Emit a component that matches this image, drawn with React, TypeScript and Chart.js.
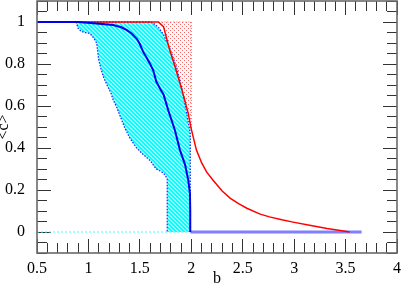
import React, { useEffect, useRef } from 'react';
import { Chart, registerables } from 'chart.js';
Chart.register(...registerables);

const xTickValues = [0.5, 1, 1.5, 2, 2.5, 3, 3.5, 4];
const yTickValues = [0, 0.2, 0.4, 0.6, 0.8, 1];
const xMinorStep = 0.1;
const yMinorStep = 0.05;
const xRange = [0.5, 4];
const yRange = [-0.1, 1.1];
const xLabel = 'b';
const yLabel = '<c>';

// red curve
const redX = [0.5, 1.0, 1.5, 1.68, 1.73, 1.79, 1.84, 1.89, 1.93, 1.97, 2.0, 2.05, 2.1, 2.15, 2.21, 2.3, 2.38, 2.46, 2.54, 2.67, 2.76, 2.88, 2.99, 3.15, 3.32, 3.48, 3.54];
const redY = [1, 1, 1, 1.0, 0.978, 0.867, 0.79, 0.708, 0.64, 0.565, 0.49, 0.39, 0.33, 0.285, 0.248, 0.195, 0.16, 0.135, 0.113, 0.085, 0.072, 0.058, 0.047, 0.032, 0.017, 0.005, 0];

// upper bound of the cyan band
const upperX = [0.5, 1.6, 1.63, 1.68, 1.73, 1.79, 1.86, 1.91, 1.95, 1.99, 1.99];
const upperY = [1, 1, 0.995, 0.975, 0.94, 0.875, 0.78, 0.68, 0.58, 0.47, 0];

// lower bound of the cyan band
const lowerX = [0.5, 0.88, 0.9, 0.93, 0.97, 1.015, 1.05, 1.08, 1.09, 1.1, 1.12, 1.145, 1.19, 1.22, 1.24, 1.27, 1.31, 1.35, 1.4, 1.44, 1.47, 1.53, 1.6, 1.63, 1.66, 1.7, 1.73, 1.766, 1.766];
const lowerY = [1, 1, 0.97, 0.955, 0.95, 0.945, 0.925, 0.9, 0.86, 0.82, 0.78, 0.74, 0.69, 0.66, 0.63, 0.6, 0.55, 0.5, 0.45, 0.42, 0.4, 0.37, 0.34, 0.32, 0.3, 0.29, 0.28, 0.255, 0];

// mean curve
const meanX = [0.5, 0.9, 1.05, 1.24, 1.32, 1.37, 1.42, 1.47, 1.5, 1.53, 1.566, 1.6, 1.63, 1.66, 1.7, 1.73, 1.776, 1.81, 1.84, 1.89, 1.94, 1.97, 1.987, 1.99, 1.99];
const meanY = [1, 1, 0.994, 0.986, 0.975, 0.962, 0.945, 0.92, 0.895, 0.86, 0.83, 0.8, 0.77, 0.716, 0.68, 0.655, 0.58, 0.53, 0.486, 0.39, 0.32, 0.248, 0.184, 0.1, 0];

const baseX = [1.99, 3.656];
const baseY = [0, 0];
const zeroX = [0.5, 1.99];
const zeroY = [0, 0];
const pinkEdgeX = [1.68, 2.0, 2.0];
const pinkEdgeY = [1, 1, 0.49];

const zip = (xs: number[], ys: number[]) => xs.map((x, i) => ({ x, y: ys[i] }));

function minorValues(lo: number, hi: number, step: number, majors: number[]) {
  const out: number[] = [];
  const n = Math.round((hi - lo) / step);
  for (let i = 0; i <= n; i++) {
    const v = Math.round((lo + i * step) * 1000) / 1000;
    if (!majors.some((m) => Math.abs(m - v) < 1e-6)) out.push(v);
  }
  return out;
}

function makePattern(size: number, fn: (x: number, y: number) => number[] | null) {
  const c = document.createElement('canvas');
  c.width = size;
  c.height = size;
  const p = c.getContext('2d')!;
  const img = p.createImageData(size, size);
  for (let y = 0; y < size; y++) {
    for (let x = 0; x < size; x++) {
      const col = fn(x, y);
      if (col) {
        const k = (y * size + x) * 4;
        img.data[k] = col[0];
        img.data[k + 1] = col[1];
        img.data[k + 2] = col[2];
        img.data[k + 3] = col[3];
      }
    }
  }
  p.putImageData(img, 0, 0);
  return p.createPattern(c, 'repeat')!;
}

const framePlugin = {
  id: 'framePlugin',
  afterDraw(chart: any) {
    const ctx: CanvasRenderingContext2D = chart.ctx;
    const a = chart.chartArea;
    ctx.save();
    ctx.setLineDash([]);
    ctx.strokeStyle = '#6a6a6a';
    ctx.lineWidth = 1.6;
    ctx.strokeRect(a.left, a.top, a.right - a.left, a.bottom - a.top);
    ctx.restore();
  },
};

function tickAxis(axis: 'x' | 'y', position: string, values: number[], len: number) {
  const range = axis === 'x' ? xRange : yRange;
  return {
    type: 'linear',
    axis,
    position,
    min: range[0],
    max: range[1],
    weight: -1,
    display: true,
    grid: { display: true, drawOnChartArea: false, drawTicks: true, tickLength: -len, color: '#333333', lineWidth: 1 },
    border: { display: false },
    ticks: { display: false },
    title: { display: false },
    afterBuildTicks: (s: any) => { s.ticks = values.map((v) => ({ value: v })); },
    afterFit: (s: any) => {
      if (axis === 'x') s.height = 0; else s.width = 0;
      s.paddingLeft = 0; s.paddingRight = 0; s.paddingTop = 0; s.paddingBottom = 0;
    },
  } as any;
}

export default function App() {
  const ref = useRef<HTMLCanvasElement>(null);
  useEffect(() => {
    document.body.style.margin = '0';
    const canvas = ref.current!;
    const hatch = makePattern(4, (x, y) => (((x - y) % 4 + 4) % 4 < 2 ? [0, 255, 255, 255] : [150, 255, 255, 255]));
    const dots = makePattern(4, (x, y) => ((x === 0 && y === 0) || (x === 2 && y === 2) ? [255, 60, 60, 200] : null));

    const redPts = zip(redX, redY);
    const pinkPoly = [...redPts.filter((p) => p.x >= pinkEdgeX[0] && p.x <= pinkEdgeX[1]), { x: pinkEdgeX[1], y: pinkEdgeY[1] }];
    const lowerPts = zip(lowerX, lowerY).filter((p) => p.x >= lowerX[1]);
    const upperPts = zip(upperX, upperY).filter((p) => p.x >= lowerX[1]).reverse();
    const cyanPoly = [...lowerPts, { x: upperX[upperX.length - 1], y: 0 }, ...upperPts, { x: lowerX[1], y: 1 }];

    const xMinor = minorValues(xRange[0], xRange[1], xMinorStep, xTickValues);
    const yMinor = minorValues(yRange[0], yRange[1], yMinorStep, yTickValues);

    const base = { pointRadius: 0, tension: 0, fill: false } as any;
    const fmt = (v: any) => String(Math.round(Number(v) * 100) / 100);
    const chart = new Chart(canvas, {
      type: 'line',
      data: {
        datasets: [
          { ...base, label: 'mean', data: zip(meanX, meanY), borderColor: '#0000e6', borderWidth: 2 },
          { ...base, label: 'red', data: redPts, borderColor: '#ff0000', borderWidth: 1.5 },
          { ...base, label: 'upper', data: zip(upperX, upperY), borderColor: '#2a2aff', borderWidth: 1.3, borderDash: [1.5, 1.5] },
          { ...base, label: 'lower', data: zip(lowerX, lowerY), borderColor: '#2a2aff', borderWidth: 1.3, borderDash: [1.5, 1.5] },
          { ...base, label: 'pinkEdge', data: zip(pinkEdgeX, pinkEdgeY), borderColor: '#ff5050', borderWidth: 1, borderDash: [1, 2] },
          { ...base, label: 'zero', data: zip(zeroX, zeroY), borderColor: '#40ffff', borderWidth: 1, borderDash: [2, 2] },
          { ...base, label: 'base', data: zip(baseX, baseY), borderColor: '#8080ff', borderWidth: 3 },
          { ...base, label: 'pinkFill', data: pinkPoly, borderWidth: 0, borderColor: 'rgba(0,0,0,0)', backgroundColor: dots, fill: 'shape' },
          { ...base, label: 'cyanFill', data: cyanPoly, borderWidth: 0, borderColor: 'rgba(0,0,0,0)', backgroundColor: hatch, fill: 'shape' },
        ],
      },
      options: {
        animation: false,
        responsive: false,
        devicePixelRatio: 1,
        layout: { padding: { top: 1, right: 5, left: 0, bottom: 0 } },
        plugins: { legend: { display: false }, tooltip: { enabled: false } },
        scales: {
          x: {
            type: 'linear',
            min: xRange[0],
            max: xRange[1],
            weight: 0,
            grid: { display: false },
            border: { display: false },
            afterFit: (s: any) => { s.height = 31; s.paddingLeft = 0; s.paddingRight = 0; },
            afterBuildTicks: (s: any) => { s.ticks = xTickValues.map((v) => ({ value: v })); },
            ticks: { padding: -2, color: '#000', font: { family: 'Liberation Serif', size: 16 }, maxRotation: 0, callback: fmt },
            title: { display: true, text: xLabel, color: '#000', font: { family: 'Liberation Serif', size: 16 }, padding: { top: 0, bottom: -4.5 } },
          },
          y: {
            type: 'linear',
            min: yRange[0],
            max: yRange[1],
            weight: 0,
            grid: { display: false },
            border: { display: false },
            afterFit: (s: any) => { s.width = 37; s.paddingTop = 0; s.paddingBottom = 0; },
            afterBuildTicks: (s: any) => { s.ticks = yTickValues.map((v) => ({ value: v })); },
            ticks: { padding: 4, color: '#000', font: { family: 'Liberation Serif', size: 16 }, callback: fmt },
            title: { display: true, text: yLabel, color: '#000', font: { family: 'Liberation Serif', size: 16 }, padding: { top: -5.5, bottom: 0 } },
          },
          xBotMajor: tickAxis('x', 'bottom', xTickValues, 14),
          xBotMinor: tickAxis('x', 'bottom', xMinor, 10),
          xTopMajor: tickAxis('x', 'top', xTickValues, 14),
          xTopMinor: tickAxis('x', 'top', xMinor, 10),
          yLeftMajor: tickAxis('y', 'left', yTickValues, 14),
          yLeftMinor: tickAxis('y', 'left', yMinor, 10),
          yRightMajor: tickAxis('y', 'right', yTickValues, 14),
          yRightMinor: tickAxis('y', 'right', yMinor, 10),
        },
      } as any,
      plugins: [framePlugin],
    });
    return () => chart.destroy();
  }, []);
  return <canvas ref={ref} width={402} height={284} style={{ display: 'block', width: 402, height: 284 }} />;
}
